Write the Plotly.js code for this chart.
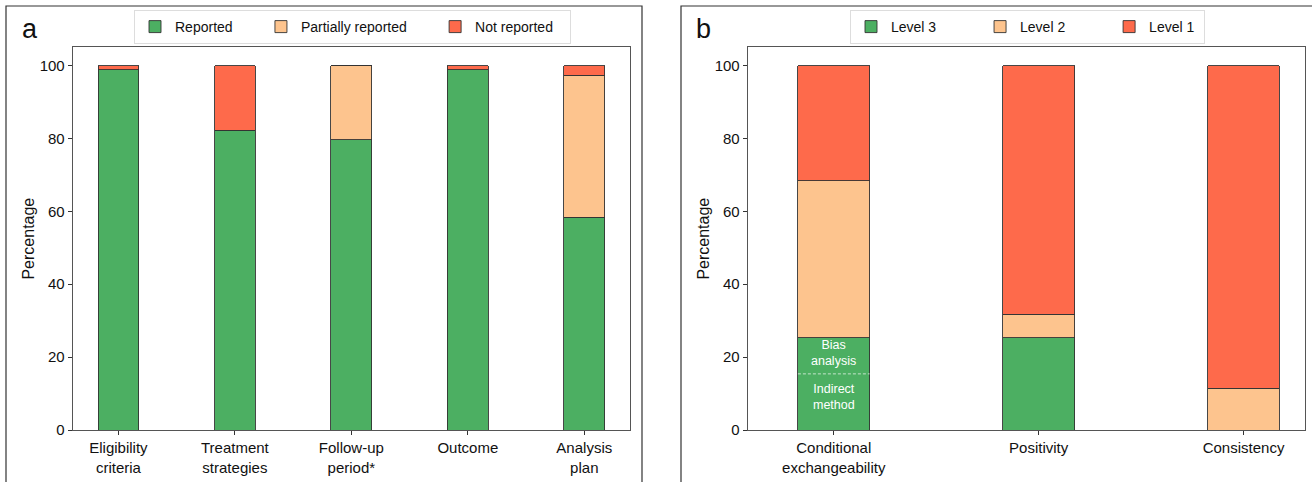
<!DOCTYPE html>
<html>
<head>
<meta charset="utf-8">
<script src="https://cdn.plot.ly/plotly-3.0.1.min.js"></script>
<style>html,body{margin:0;padding:0;background:#fff;}#chart{width:1312px;height:482px;}</style>
</head>
<body>
<div id="chart"></div>
<script>
const catsA = ['Eligibility<br>criteria', 'Treatment<br>strategies', 'Follow-up<br>period*', 'Outcome', 'Analysis<br>plan'];
const reported = [98.8, 82.3, 79.7, 98.8, 58.4];
const partiallyReported = [0, 0, 20.3, 0, 39.0];
const notReported = [1.2, 17.7, 0, 1.2, 2.6];
const seriesA = ['Reported', 'Partially reported', 'Not reported'];

const catsB = ['Conditional<br>exchangeability', 'Positivity', 'Consistency'];
const level3 = [25.3, 25.3, 0];
const level2 = [43.1, 6.4, 11.5];
const level1 = [31.6, 68.3, 88.5];
const seriesB = ['Level 3', 'Level 2', 'Level 1'];
const indirectMethod = 15.4;   // lower part of Level 3 for conditional exchangeability

const W = 1312, H = 482;
const px = v => v / W;
const py = v => (H - v) / H;

const GREEN = '#4caf62', PEACH = '#fdc48e', RED = '#fe6a4b';
const FONT = 'Liberation Sans, Arial, sans-serif';
const edge = {color: '#333', width: 0.9};
const BW = 0.35;
const nb = n => '\u00a0'.repeat(n);

function bar(x, y, name, color, xa, ya, lg, pad) {
  return {type: 'bar', x: x, y: y, name: name + pad, width: BW, xaxis: xa, yaxis: ya, legend: lg,
          marker: {color: color, line: edge}, hoverinfo: 'x+y+name'};
}

const data = [
  bar(catsA, reported, seriesA[0], GREEN, 'x', 'y', 'legend', nb(6)),
  bar(catsA, partiallyReported, seriesA[1], PEACH, 'x', 'y', 'legend', nb(6)),
  bar(catsA, notReported, seriesA[2], RED, 'x', 'y', 'legend', nb(3)),
  bar(catsB, level3, seriesB[0], GREEN, 'x2', 'y2', 'legend2', nb(10)),
  bar(catsB, level2, seriesB[1], PEACH, 'x2', 'y2', 'legend2', nb(10)),
  bar(catsB, level1, seriesB[2], RED, 'x2', 'y2', 'legend2', nb(1))
];

const yax = (anchor) => ({
  domain: [py(430), py(47.3)], range: [0, 105], anchor: anchor,
  tickvals: [0, 20, 40, 60, 80, 100], ticks: 'outside', ticklen: 4, tickcolor: '#333',
  showgrid: false, zeroline: false, showline: true, mirror: true, linecolor: '#555', linewidth: 1,
  tickfont: {size: 15, color: '#111', family: FONT},
  title: {text: 'Percentage', font: {size: 16, color: '#111', family: FONT}, standoff: 1}
});
const xax = (dom, rng, anchor) => ({
  domain: dom, range: rng, anchor: anchor, type: 'category',
  ticks: 'outside', ticklen: 4, tickcolor: '#333',
  showgrid: false, zeroline: false, showline: true, mirror: true, linecolor: '#555', linewidth: 1,
  tickfont: {size: 15, color: '#111', family: FONT}
});

const legendStyle = (x) => ({
  orientation: 'h', x: x, y: py(10), xanchor: 'left', yanchor: 'top',
  bordercolor: '#ddd', borderwidth: 1, bgcolor: 'rgba(255,255,255,0.9)',
  font: {size: 14, color: '#111', family: FONT}, traceorder: 'normal'
});

const layout = {
  width: W, height: H, margin: {l: 0, r: 0, t: 0, b: 0},
  paper_bgcolor: '#fff', plot_bgcolor: '#fff',
  barmode: 'stack', bargap: 0,
  font: {family: FONT, color: '#111'},
  xaxis: xax([px(72.7), px(630)], [-0.3925, 4.3925], 'y'),
  yaxis: yax('x'),
  xaxis2: xax([px(747.7), px(1305)], [-0.42, 2.30], 'y2'),
  yaxis2: yax('x2'),
  legend: legendStyle(px(134)),
  legend2: legendStyle(px(850)),
  shapes: [
    {type: 'rect', xref: 'paper', yref: 'paper', x0: px(6), x1: px(642), y0: -0.1, y1: py(6),
     line: {color: '#333', width: 1.2}},
    {type: 'rect', xref: 'paper', yref: 'paper', x0: px(681), x1: px(1330), y0: -0.1, y1: py(6),
     line: {color: '#333', width: 1.2}},
    {type: 'line', xref: 'x2', yref: 'y2', x0: -BW / 2, x1: BW / 2, y0: indirectMethod, y1: indirectMethod,
     line: {color: 'rgba(255,255,255,0.85)', width: 0.8, dash: '3px,2px'}}
  ],
  annotations: [
    {text: 'a', xref: 'paper', yref: 'paper', x: px(20), y: py(29), xanchor: 'left', yanchor: 'middle',
     showarrow: false, font: {size: 27, color: '#111', family: FONT}},
    {text: 'b', xref: 'paper', yref: 'paper', x: px(694), y: py(29), xanchor: 'left', yanchor: 'middle',
     showarrow: false, font: {size: 27, color: '#111', family: FONT}},
    {text: 'Bias<br>analysis', xref: 'x2', yref: 'y2', x: 0, y: (level3[0] + indirectMethod) / 2, yshift: 3,
     showarrow: false, font: {size: 12.5, color: '#fff', family: FONT}},
    {text: 'Indirect<br>method', xref: 'x2', yref: 'y2', x: 0, y: indirectMethod / 2, yshift: 5,
     showarrow: false, font: {size: 12.5, color: '#fff', family: FONT}}
  ]
};

Plotly.newPlot('chart', data, layout, {displayModeBar: false, staticPlot: true});
</script>
</body>
</html>
